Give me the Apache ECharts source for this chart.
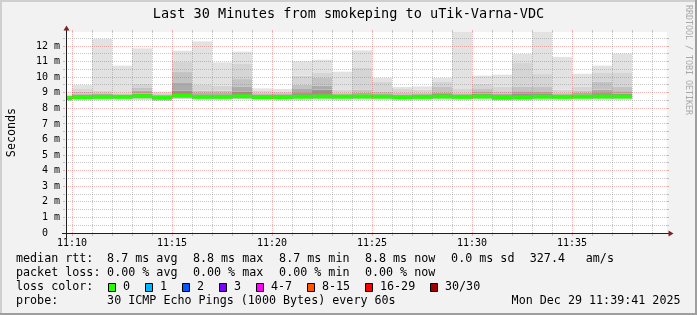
<!DOCTYPE html>
<html><head><meta charset="utf-8">
<script src="https://cdn.jsdelivr.net/npm/echarts@6/dist/echarts.min.js"></script>
<style>html,body{margin:0;padding:0;background:#f2f2f2}#c{width:697px;height:315px}</style>
</head><body><div id="c"></div>
<script>
// ---- data (minutes past 11:00, value covers the minute ending at that time) ----
const minutes   = [10,11,12,13,14,15,16,17,18,19,20,21,22,23,24,25,26,27,28,29,30,31,32,33,34,35,36,37,38];
const smokeMax  = [8.90,9.50,12.45,10.74,11.85,9.07,11.70,12.30,10.95,11.64,9.28,9.24,11.02,11.12,10.35,11.72,9.95,9.37,9.41,9.95,13.30,10.10,10.16,11.49,13.30,11.30,10.22,10.74,11.51];
const smokeQ1   = [8.85,9.24,9.13,8.98,9.60,8.98,11.00,9.50,9.45,10.85,9.13,9.09,10.10,10.31,9.20,10.59,9.73,9.24,9.20,9.73,9.24,9.58,9.41,10.91,10.20,9.20,9.41,10.27,10.27];
const smokeQ2   = [8.82,9.07,8.98,8.92,9.35,8.92,10.33,9.13,9.13,9.88,9.00,8.98,9.52,9.95,9.00,9.20,9.09,9.00,9.00,9.37,9.00,9.24,9.05,9.41,9.37,9.00,9.15,9.73,9.41];
const smokeQ3   = [8.80,8.95,8.92,8.88,9.13,8.88,9.67,8.98,8.98,9.41,8.93,8.92,9.24,9.45,8.93,9.00,8.97,8.90,8.93,9.03,8.93,9.05,8.93,9.10,9.05,8.93,9.00,9.20,9.10];
const smokeQ4   = [8.78,8.88,8.86,8.85,8.95,8.83,9.15,8.90,8.90,9.09,8.88,8.87,8.98,9.20,8.88,8.90,8.90,8.82,8.87,8.92,8.88,8.95,8.85,8.92,8.92,8.88,8.90,8.98,8.95];
const medianRtt = [8.65,8.73,8.74,8.74,8.78,8.68,8.81,8.74,8.74,8.77,8.73,8.73,8.75,8.76,8.75,8.76,8.75,8.72,8.74,8.76,8.74,8.76,8.68,8.70,8.75,8.74,8.75,8.76,8.76];
const smokeMin  = [8.50,8.52,8.55,8.55,8.55,8.47,8.60,8.55,8.55,8.58,8.55,8.51,8.51,8.55,8.51,8.55,8.55,8.50,8.52,8.55,8.52,8.55,8.50,8.50,8.52,8.52,8.55,8.55,8.55];

const xMajorTicks = [10,15,20,25,30,35];
const xMinorTicks = [11,12,13,14,16,17,18,19,21,22,23,24,26,27,28,29,31,32,33,34,36,37,38,39];
const yMajorTicks = [1,2,3,4,5,6,7,8,9,10,11,12];
const yMinorTicks = [0.5,1.5,2.5,3.5,4.5,5.5,6.5,7.5,8.5,9.5,10.5,11.5,12.5];

const titleText = 'Last 30 Minutes from smokeping to uTik-Varna-VDC';
const rttLabels = ['8.7 ms avg','8.8 ms max','8.7 ms min','8.8 ms now','0.0 ms sd','327.4','am/s'];
const lossLabels = ['0.00 % avg','0.00 % max','0.00 % min','0.00 % now'];
const lossColorNames = ['0','1','2','3','4-7','8-15','16-29','30/30'];
const lossColors = ['#26ff00','#00b8ff','#0059ff','#7e00ff','#ff00ff','#ff5500','#ff0000','#a00000'];
const probeText = '30 ICMP Echo Pings (1000 Bytes) every 60s';
const dateText = 'Mon Dec 29 11:39:41 2025';

// ---- layout ----
const MONO = "'DejaVu Sans Mono', monospace";
const xMin = 9.7, xMax = 39.75;
const smokeColors = ['#d2d2d2','#959595','#acacac','#c3c3c3','#d5d5d5','#e2e2e2'];
const GRID = 'rgba(143,143,143,0.5)', MGRID = 'rgba(222,79,79,0.42)';

const smokeData = minutes.map((t,i)=>[t, smokeMin[i], medianRtt[i], smokeQ4[i], smokeQ3[i], smokeQ2[i], smokeQ1[i], smokeMax[i]]);
const gridData = [].concat(
  xMajorTicks.map(v=>[v,0]), xMinorTicks.map(v=>[v,1]),
  yMajorTicks.map(v=>[v,2]), yMinorTicks.map(v=>[v,3]));

function pad2(n){return (n<10?'0':'')+n;}

const chart = echarts.init(document.getElementById('c'), null, {renderer:'canvas'});

const graphics = [];
// frame
graphics.push({type:'rect', shape:{x:0,y:0,width:697,height:2}, style:{fill:'#cfcfcf'}, silent:true});
graphics.push({type:'rect', shape:{x:0,y:0,width:2,height:315}, style:{fill:'#cfcfcf'}, silent:true});
graphics.push({type:'rect', shape:{x:0,y:313,width:697,height:2}, style:{fill:'#9e9e9e'}, silent:true});
graphics.push({type:'rect', shape:{x:695,y:0,width:2,height:315}, style:{fill:'#9e9e9e'}, silent:true});
// axes
graphics.push({type:'line', shape:{x1:62,y1:233.5,x2:671,y2:233.5}, style:{stroke:'#1f1f1f',lineWidth:1}, z:10, silent:true});
graphics.push({type:'line', shape:{x1:66.5,y1:238,x2:66.5,y2:28}, style:{stroke:'#1f1f1f',lineWidth:1}, z:10, silent:true});
graphics.push({type:'polygon', shape:{points:[[668.5,230.5],[668.5,236.5],[673.5,233.5]]}, style:{fill:'#801f1f'}, z:11, silent:true});
graphics.push({type:'polygon', shape:{points:[[63.5,30.5],[69.5,30.5],[66.5,25.5]]}, style:{fill:'#801f1f'}, z:11, silent:true});
// title
graphics.push({type:'text', x:348.5, y:14, style:{text:titleText, font:"13.55px "+MONO, fill:'#000', align:'center', verticalAlign:'middle'}, silent:true});
// unit
graphics.push({type:'text', x:11.5, y:132.5, rotation:Math.PI/2, style:{text:'Seconds', font:"11.7px "+MONO, fill:'#000', align:'center', verticalAlign:'middle'}, silent:true});
// watermark
graphics.push({type:'text', x:688, y:60, rotation:-Math.PI/2, style:{text:'RRDTOOL / TOBI OETIKER', font:"8.3px "+MONO, fill:'#a8a8a8', align:'center', verticalAlign:'middle'}, silent:true});
// legend rows
const LF = "11.7px "+MONO;
function txt(s,x,y,align){graphics.push({type:'text', x:x, y:y, style:{text:s, font:LF, fill:'#000', align:align||'left', verticalAlign:'middle'}, silent:true});}
txt('median rtt:',16,259.3);
const rttX = [107.1,192.9,279.1,364.9,451.1,529.8,585.8];
rttLabels.forEach((s,i)=>txt(s,rttX[i],259.3));
txt('packet loss:',16,273.3);
lossLabels.forEach((s,i)=>txt(s,rttX[i],273.3));
txt('loss color:',16,287.3);
const boxX = [108,145,182,219,256,307,365,430];
lossColorNames.forEach((s,i)=>{
  graphics.push({type:'rect', shape:{x:boxX[i]+0.5,y:283.5,width:7,height:8}, style:{fill:lossColors[i], stroke:'#000', lineWidth:1}, silent:true});
  txt(s, boxX[i]+15, 287.3);
});
txt('probe:',16,301);
txt(probeText,107.1,301);
txt(dateText,680.5,301,'right');

const option = {
  backgroundColor:'#f2f2f2',
  animation:false,
  grid:{left:66, right:30, top:32, bottom:82, show:true, backgroundColor:'#ffffff', borderWidth:0, containLabel:false},
  xAxis:{
    type:'value', min:xMin, max:xMax,
    axisLine:{show:false}, axisTick:{show:false}, splitLine:{show:false},
    axisLabel:{
      customValues: xMajorTicks,
      formatter:function(v){ const r=Math.round(v); if(Math.abs(v-r)>1e-6 || r%5!==0) return ''; return '11:'+pad2(r); },
      fontFamily:MONO, fontSize:10, color:'#000', margin:5,
      showMinLabel:true, showMaxLabel:true
    }
  },
  yAxis:{
    type:'value', min:0, max:12.9, interval:1,
    axisLine:{show:false}, axisTick:{show:false}, splitLine:{show:false},
    axisLabel:{
      formatter:function(v){ const r=Math.round(v); if(Math.abs(v-r)>1e-6 || r>12) return ''; return r===0 ? '0  ' : r+' m'; },
      fontFamily:MONO, fontSize:10, color:'#000', margin:6
    }
  },
  graphic:graphics,
  series:[
    {
      type:'custom', name:'smoke', clip:true, silent:true,
      data:smokeData,
      encode:{x:0, y:[1,7]},
      renderItem:function(params, api){
        const t = api.value(0);
        const x0 = api.coord([t-1,0])[0], x1 = api.coord([t,0])[0];
        const lv = [1,2,3,4,5,6,7].map(i=>api.value(i));
        const Y = v=>api.coord([t,v])[1];
        const ch = [];
        for(let j=0;j<6;j++){
          const ya=Y(lv[j]), yb=Y(lv[j+1]);
          ch.push({type:'rect', shape:{x:x0,y:yb,width:x1-x0,height:ya-yb}, style:{fill:smokeColors[j]}});
        }
        const ym = Y(lv[1]);
        ch.push({type:'rect', shape:{x:x0,y:ym-2,width:x1-x0,height:4}, style:{fill:'#26ff00'}});
        return {type:'group', children:ch};
      }
    },
    {
      type:'custom', name:'grid', clip:false, silent:true, z:5,
      data:gridData,
      encode:{x:0},
      renderItem:function(params, api){
        const v = api.value(0), k = api.value(1);
        const cs = params.coordSys;
        const col = (k===0||k===2) ? MGRID : GRID;
        const ch = [];
        if(k<2){
          const x = Math.floor(api.coord([v,0])[0]) + 0.5;
          const top = cs.y, bot = cs.y+cs.height;
          ch.push({type:'line', shape:{x1:x,y1:top,x2:x,y2:bot}, style:{stroke:col,lineWidth:1,lineDash:[1,1]}});
          ch.push({type:'line', shape:{x1:x,y1:top-2,x2:x,y2:top}, style:{stroke:col,lineWidth:1}});
          ch.push({type:'line', shape:{x1:x,y1:bot+1,x2:x,y2:bot+3}, style:{stroke:col,lineWidth:1}});
        } else {
          const y = Math.floor(api.coord([xMin,v])[1]) + 0.5;
          const l = cs.x, r = cs.x+cs.width;
          ch.push({type:'line', shape:{x1:l,y1:y,x2:r,y2:y}, style:{stroke:col,lineWidth:1,lineDash:[1,1]}});
          ch.push({type:'line', shape:{x1:l-3,y1:y,x2:l-1,y2:y}, style:{stroke:col,lineWidth:1}});
          ch.push({type:'line', shape:{x1:r,y1:y,x2:r+2,y2:y}, style:{stroke:col,lineWidth:1}});
        }
        return {type:'group', children:ch};
      }
    }
  ]
};
chart.setOption(option);
</script></body></html>
